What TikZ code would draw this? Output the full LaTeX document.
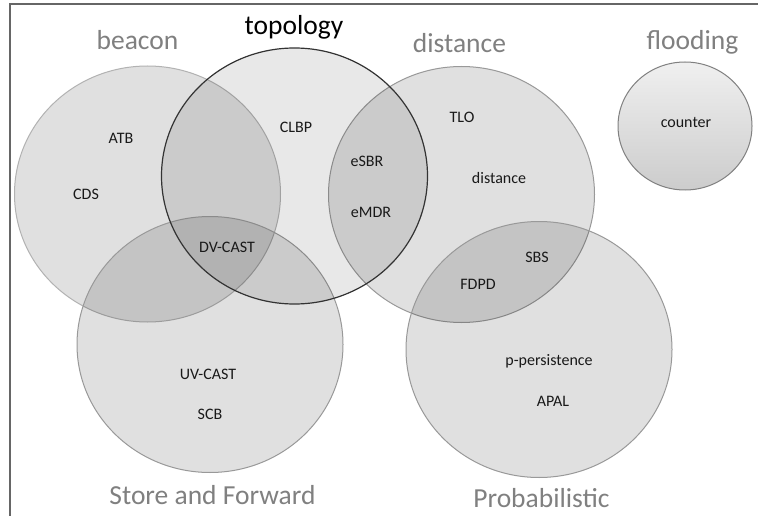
\documentclass[tikz,border=0pt]{standalone}
\usepackage{fontspec}
\setmainfont{Carlito}
\usetikzlibrary{shapes.geometric}
\tikzset{
  set/.style={ellipse, minimum width=266pt, minimum height=256pt, inner sep=0pt,
    fill=black, fill opacity=0.12, draw=#1, draw opacity=1, line width=1pt},
  heading/.style={anchor=base, font=\fontsize{27.5}{30}\selectfont, text=black!50},
  item/.style={anchor=base, font=\fontsize{16}{18}\selectfont, text=black!90},
  frame/.style={draw=black!60, line width=1.4pt}
}
\begin{document}
\begin{tikzpicture}[x=1pt, y=-1pt]
\useasboundingbox (0,0) rectangle (758,516);
\fill[white] (0,0) rectangle (758,516);
\draw[frame] (10,516) -- (10,4) -- (758,4);

% overlapping sets
\node[set=black!30] (beacon) at (147.5,194) {};
\node[set=black!40] (dist) at (461.5,194.5) {};
\node[set=black!40] (sf) at (210,344.5) {};
\node[set=black!40] (prob) at (539,349.5) {};
\node[set=black!80, fill opacity=0.09, line width=1.2pt] (topo) at (294.5,176) {};
\node[ellipse, minimum width=134pt, minimum height=128pt, inner sep=0pt,
  top color=black!6, bottom color=black!20, draw=black!50, line width=1pt] (flood) at (685,126) {};

% set names
\node[heading] (hbeacon) at (137.5,50) {beacon};
\node[heading, text=black] (htopo) at (294,35) {topology};
\node[heading] (hdist) at (459.5,53) {distance};
\node[heading] (hflood) at (692.5,50) {flooding};
\node[heading] (hsf) at (212.5,504) {Store and Forward};
\node[heading] (hprob) at (541.5,507) {Probabilistic};

% protocols
\node[item] (atb) at (121,144) {ATB};
\node[item] (cds) at (86,200) {CDS};
\node[item] (clbp) at (296,133) {CLBP};
\node[item] (dvcast) at (227,252) {DV-CAST};
\node[item] (esbr) at (367,167) {eSBR};
\node[item] (emdr) at (371,217) {eMDR};
\node[item] (tlo) at (462,123) {TLO};
\node[item] (distance) at (499,183) {distance};
\node[item] (counter) at (686,128) {counter};
\node[item] (sbs) at (537,262) {SBS};
\node[item] (fdpd) at (478,289) {FDPD};
\node[item] (ppers) at (549,365) {p-persistence};
\node[item] (apal) at (553,406) {APAL};
\node[item] (uvcast) at (208,379) {UV-CAST};
\node[item] (scb) at (210,419) {SCB};
\end{tikzpicture}
\end{document}
